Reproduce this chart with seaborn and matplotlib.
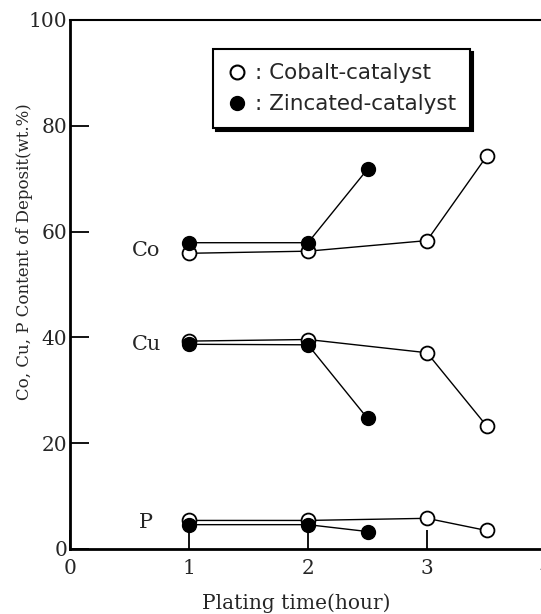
import matplotlib
matplotlib.use("Agg")
import matplotlib.pyplot as plt
from matplotlib.lines import Line2D
import seaborn as sns

# plating time (hour)
t_cobalt = [1, 2, 3, 3.5]
t_zinc = [1, 2, 2.5]

# Cobalt-catalyst (open circles)
co_cobalt = [55.9, 56.3, 58.3, 74.2]
cu_cobalt = [39.3, 39.6, 37.1, 23.3]
p_cobalt = [5.4, 5.4, 5.8, 3.5]

# Zincated-catalyst (filled circles)
co_zinc = [57.9, 57.9, 71.8]
cu_zinc = [38.7, 38.6, 24.7]
p_zinc = [4.6, 4.6, 3.3]

element_labels = ["Co", "Cu", "P"]
label_y = [56.5, 38.6, 5.0]

sns.set_style("white")
plt.rcParams["font.family"] = ["DejaVu Serif", "Liberation Serif"]

fig = plt.figure(figsize=(5.41, 6.14), dpi=100)
ax = fig.add_axes([70 / 541, 65 / 614, 476 / 541, 529 / 614])

# open symbols first, filled ones drawn on top
for ys in [co_cobalt, cu_cobalt, p_cobalt]:
    sns.lineplot(x=t_cobalt, y=ys, ax=ax, color="black", linewidth=1.0,
                 marker="o", markersize=10, markerfacecolor="white",
                 markeredgecolor="black", markeredgewidth=1.3,
                 estimator=None, sort=False)
for ys in [co_zinc, cu_zinc, p_zinc]:
    sns.lineplot(x=t_zinc, y=ys, ax=ax, color="black", linewidth=1.0,
                 marker="o", markersize=10, markerfacecolor="black",
                 markeredgecolor="black", markeredgewidth=1.0,
                 estimator=None, sort=False)

for lab, y in zip(element_labels, label_y):
    ax.text(0.64, y, lab, ha="center", va="center", fontsize=15)

ax.set_xlim(0, 4)
ax.set_ylim(0, 100)
ax.set_xticks([0, 1, 2, 3, 4])
ax.set_yticks([0, 20, 40, 60, 80, 100])
ax.tick_params(axis="both", direction="in", length=14, width=1.3,
               labelsize=14.5, color="black", bottom=True, left=True,
               top=False, right=False)
ax.tick_params(axis="y", pad=2)
ax.tick_params(axis="x", pad=7)

ax.spines["left"].set_linewidth(2.0)
ax.spines["bottom"].set_linewidth(2.0)
ax.spines["top"].set_linewidth(1.5)
ax.spines["right"].set_linewidth(1.5)
for s in ax.spines.values():
    s.set_color("black")

fig.text(25 / 541, 1 - 252 / 614, "Co, Cu, P Content of Deposit(wt.%)",
         rotation=90, ha="center", va="center", fontsize=12)
fig.text(296 / 541, 1 - 603 / 614, "Plating time(hour)",
         ha="center", va="center", fontsize=14.5)

handles = [
    Line2D([], [], linestyle="none", marker="o", markersize=10,
           markerfacecolor="white", markeredgecolor="black", markeredgewidth=1.5),
    Line2D([], [], linestyle="none", marker="o", markersize=10,
           markerfacecolor="black", markeredgecolor="black"),
]
leg = ax.legend(handles, [": Cobalt-catalyst", ": Zincated-catalyst"],
                loc="center", bbox_to_anchor=(0.571, 0.870),
                prop={"family": "DejaVu Sans", "size": 15.5},
                frameon=True, fancybox=False, shadow={"color": "black", "alpha": 1},
                handlelength=0.9, handletextpad=0.4, borderpad=0.65,
                labelspacing=0.5, borderaxespad=0)
leg.get_frame().set_edgecolor("black")
leg.get_frame().set_linewidth(1.5)
leg.get_frame().set_alpha(1)

fig.savefig("out.png", dpi=100)
